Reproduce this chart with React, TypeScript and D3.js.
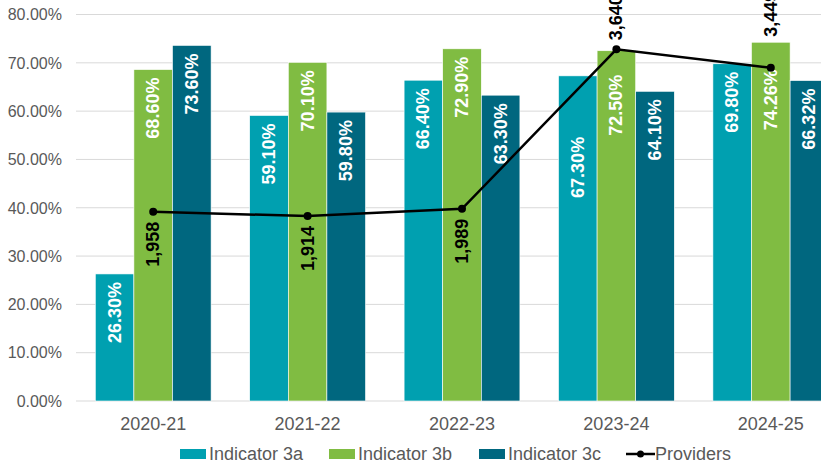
import React from "react";
import * as d3 from "d3";

const categories = ["2020-21", "2021-22", "2022-23", "2023-24", "2024-25"];
const indicator3a = [26.3, 59.1, 66.4, 67.3, 69.8];
const indicator3b = [68.6, 70.1, 72.9, 72.5, 74.26];
const indicator3c = [73.6, 59.8, 63.3, 64.1, 66.32];
const providers = [1958, 1914, 1989, 3640, 3449];
const providerLabelPos = ["below", "below", "below", "above", "above"];
const yTicks = [0, 10, 20, 30, 40, 50, 60, 70, 80];
// manually nudged data labels (series index, category index, extra drop in px)
const labelNudges = [
  [0, 3, 53],
  [1, 3, 16],
  [1, 4, 19],
];

const seriesNames = ["Indicator 3a", "Indicator 3b", "Indicator 3c"];
const seriesColors = ["#00A0B0", "#80BC42", "#00677F"];

export default function App() {
  const W = 821, H = 466;
  const left = 76, bandW = 154.4;
  const x = d3.scaleBand<string>().domain(categories).range([left, left + bandW * categories.length]).paddingInner(0).paddingOuter(0);
  const y = d3.scaleLinear().domain([0, 80]).range([401, 14.5]);
  const y2 = d3.scaleLinear().domain([0, 4000]).range([401, 14.5]);
  const barW = bandW / 4;
  const sub = d3.scaleBand<number>().domain([0, 1, 2]).range([0, barW * 3]);
  const groupOffset = (bandW - barW * 3) / 2;
  const series = [indicator3a, indicator3b, indicator3c];
  const cx = (c: string) => (x(c) as number) + bandW / 2;
  const line = d3.line<number>().x((_, i) => cx(categories[i])).y((v) => y2(v));
  const font = "'Liberation Sans', Arial, sans-serif";
  const nudge = (si: number, i: number) => {
    const n = labelNudges.find((d) => d[0] === si && d[1] === i);
    return n ? n[2] : 0;
  };

  const legendItems = [
    { x: 180, label: seriesNames[0], color: seriesColors[0] },
    { x: 329, label: seriesNames[1], color: seriesColors[1] },
    { x: 479, label: seriesNames[2], color: seriesColors[2] },
  ];

  return (
    <svg width={W} height={H} style={{ position: "absolute", left: 0, top: 0, background: "#fff" }} fontFamily={font}>
      {yTicks.map((t) => (
        <g key={t}>
          <line x1={left} x2={W} y1={y(t)} y2={y(t)} stroke="#D9D9D9" strokeWidth={1} />
          <text x={62} y={y(t)} dy="0.36em" textAnchor="end" fontSize={16} fill="#595959">
            {t.toFixed(2)}%
          </text>
        </g>
      ))}
      {categories.map((c) => (
        <text key={c} x={cx(c)} y={430} textAnchor="middle" fontSize={18} fill="#595959">
          {c}
        </text>
      ))}
      {series.map((vals, si) =>
        vals.map((v, i) => {
          const bx = (x(categories[i]) as number) + groupOffset + (sub(si) as number);
          return (
            <rect key={`${si}-${i}`} x={bx} y={y(v)} width={barW} height={y(0) - y(v)} fill={seriesColors[si]} stroke="#fff" strokeWidth={0.6} />
          );
        })
      )}
      {series.map((vals, si) =>
        vals.map((v, i) => {
          const bx = (x(categories[i]) as number) + groupOffset + (sub(si) as number) + barW / 2;
          const ty = y(v) + 8 + nudge(si, i);
          return (
            <text key={`l${si}-${i}`} transform={`translate(${bx},${ty}) rotate(-90)`} textAnchor="end" dominantBaseline="central" fontSize={18} fontWeight="bold" fill="#fff">
              {v.toFixed(2)}%
            </text>
          );
        })
      )}
      <path d={line(providers) as string} fill="none" stroke="#000" strokeWidth={2.5} />
      {providers.map((v, i) => (
        <circle key={`p${i}`} cx={cx(categories[i])} cy={y2(v)} r={4} fill="#000" />
      ))}
      {providers.map((v, i) => {
        const px = cx(categories[i]);
        const below = providerLabelPos[i] === "below";
        const extra = i === providers.length - 1 ? 22 : 0;
        const ty = below ? y2(v) + 10 : y2(v) - 9 - extra;
        return (
          <text key={`pl${i}`} transform={`translate(${px},${ty}) rotate(-90)`} textAnchor={below ? "end" : "start"} dominantBaseline="central" fontSize={18} fontWeight="bold" fill="#000">
            {d3.format(",")(v)}
          </text>
        );
      })}
      {legendItems.map((it) => (
        <g key={it.label}>
          <rect x={it.x} y={449} width={26} height={10} fill={it.color} />
          <text x={it.x + 29} y={460} fontSize={18} fill="#595959">{it.label}</text>
        </g>
      ))}
      <g>
        <line x1={626} x2={655} y1={454} y2={454} stroke="#000" strokeWidth={2.5} />
        <circle cx={640.5} cy={454} r={3.5} fill="#000" />
        <text x={655} y={460} fontSize={18} fill="#595959">Providers</text>
      </g>
    </svg>
  );
}
